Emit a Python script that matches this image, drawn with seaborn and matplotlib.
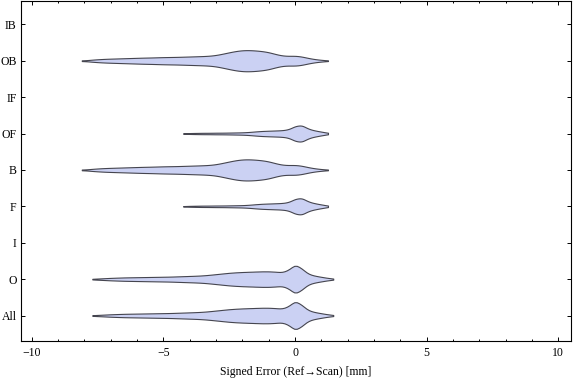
import numpy as np
import pandas as pd
import matplotlib
matplotlib.use("Agg")
import matplotlib.pyplot as plt
from matplotlib.ticker import MultipleLocator
import seaborn as sns

# Categories (top to bottom)
categories = ["IB", "OB", "IF", "OF", "B", "F", "I", "O", "All"]

# Representative error values (mm) and their relative frequencies
back_vals = [-8.10, -7.75, -7.50, -7.25, -7.00, -6.75, -6.50, -6.25, -6.00, -5.75,
             -5.50, -5.25, -5.00, -4.75, -4.50, -4.25, -4.00, -3.75, -3.50, -3.25,
             -3.00, -2.75, -2.50, -2.25, -2.00, -1.75, -1.50, -1.25, -1.00, -0.75,
             -0.50, -0.25, 0.00, 0.25, 0.50, 0.75, 1.00, 1.25]
back_counts = [5, 10, 14, 18, 20, 22, 24, 26, 28, 30,
               31, 33, 35, 36, 37, 39, 41, 43, 45, 48,
               55, 68, 82, 95, 103, 104, 100, 94, 84, 65,
               50, 46, 50, 42, 26, 15, 8, 3]

front_vals = [-4.25, -4.00, -3.75, -3.50, -3.25, -3.00, -2.75, -2.50, -2.25, -2.00,
              -1.75, -1.50, -1.25, -1.00, -0.75, -0.50, -0.25, 0.00, 0.25, 0.50,
              0.75, 1.00, 1.25]
front_counts = [2, 4, 5, 6, 6, 7, 7, 8, 9, 10,
                13, 18, 22, 24, 26, 28, 35, 65, 75, 40,
                26, 16, 6]

outer_vals = [-7.70, -7.50, -7.25, -7.00, -6.75, -6.50, -6.25, -6.00, -5.75, -5.50,
              -5.25, -5.00, -4.75, -4.50, -4.25, -4.00, -3.75, -3.50, -3.25, -3.00,
              -2.75, -2.50, -2.25, -2.00, -1.75, -1.50, -1.25, -1.00, -0.75, -0.50,
              -0.25, 0.00, 0.25, 0.50, 0.75, 1.00, 1.25, 1.45]
outer_counts = [2, 5, 8, 11, 13, 15, 16, 17, 18, 19,
                20, 21, 22, 24, 26, 28, 30, 33, 38, 44,
                50, 56, 60, 63, 65, 67, 69, 69, 66, 60,
                80, 135, 95, 45, 30, 20, 10, 3]

series = {
    "OB": (back_vals, back_counts),
    "OF": (front_vals, front_counts),
    "B": (back_vals, back_counts),
    "F": (front_vals, front_counts),
    "O": (outer_vals, outer_counts),
    "All": (outer_vals, outer_counts),
}
violin_width = {"OB": 0.58, "B": 0.58, "OF": 0.44, "F": 0.44, "O": 0.73, "All": 0.73}
bandwidth = {"OB": 0.18, "B": 0.18, "OF": 0.15, "F": 0.15, "O": 0.15, "All": 0.15}

plt.rcParams["font.family"] = ["Liberation Serif", "DejaVu Serif"]

fig = plt.figure(figsize=(5.76, 3.81), dpi=100)
ax = fig.add_axes([20.7 / 576, 1 - 341 / 381, (571 - 20.7) / 576, (341 - 0.5) / 381])

fill = "#cbd1f3"
edge = "#45454f"

for cat, (vals, counts) in series.items():
    err = np.repeat(np.array(vals, dtype=float), counts)
    df = pd.DataFrame({"err": err, "cat": cat})
    bw = bandwidth[cat] / np.std(err, ddof=1)
    sns.violinplot(data=df, x="err", y="cat", order=categories, orient="h",
                   width=violin_width[cat], density_norm="width", cut=0,
                   inner=None, bw_method=bw, bw_adjust=1, color=fill,
                   saturation=1, linecolor=edge, linewidth=0.8, ax=ax)

ax.set_xlim(-10.42, 10.48)
ax.set_ylim(8.70, -0.654)
ax.xaxis.set_major_locator(MultipleLocator(5))
ax.xaxis.set_minor_locator(MultipleLocator(1))
ax.set_xticks([-10, -5, 0, 5, 10])
ax.set_xticklabels(["\u221210", "\u22125", "0", "5", "10"])
ax.set_yticks(range(len(categories)))
ax.set_yticklabels(categories)
ax.tick_params(axis="both", which="both", direction="in", top=True, right=True,
               labelsize=8.5, colors="black", width=0.7)
ax.tick_params(axis="both", which="major", length=3.2)
ax.tick_params(axis="x", which="major", pad=4)
ax.tick_params(axis="y", which="major", pad=3)
ax.tick_params(axis="x", which="minor", length=1.6)
ax.set_xlabel("Signed Error (Ref\u2192Scan) [mm]", fontsize=8.5, labelpad=5)
ax.set_ylabel("")
for s in ax.spines.values():
    s.set_linewidth(0.8)
    s.set_color("black")

fig.savefig("out.png", dpi=100)
